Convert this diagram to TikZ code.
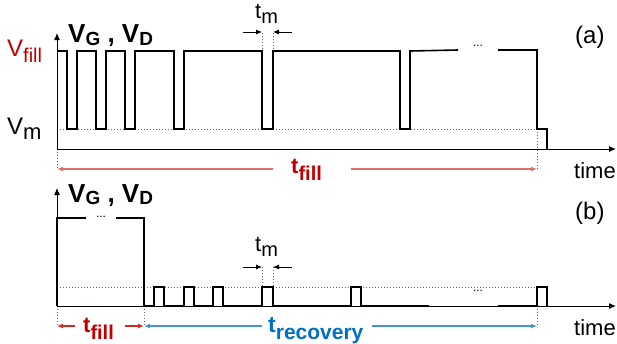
\documentclass[tikz,border=0pt]{standalone}
\usepackage{fontspec}
\setmainfont{Liberation Sans}
\usetikzlibrary{arrows.meta}
\definecolor{lblred}{RGB}{192,0,0}
\definecolor{arrred}{RGB}{222,110,110}
\definecolor{arrredb}{RGB}{215,40,40}
\definecolor{lblblue}{RGB}{0,112,192}
\definecolor{arrblue}{RGB}{70,145,220}
\newcommand{\fs}[1]{\fontsize{#1}{#1}\selectfont}
\newcommand{\subx}[3]{\raisebox{-#2pt}{\fs{#1}#3}}
\tikzset{
  sig/.style={line width=1.6pt, line join=miter, black},
  axis/.style={line width=1pt, black, -{Latex[length=7pt,width=6pt]}},
  guide/.style={line width=0.9pt, black!60, dash pattern=on 0.9pt off 2.1pt},
  txt/.style={inner sep=0pt, anchor=base west},
  dim/.style={line width=1.3pt, -{Latex[length=6pt,width=5pt]}},
  tmarr/.style={line width=0.8pt, black, -{Latex[length=6pt,width=5pt]}},
}
\begin{document}
\begin{tikzpicture}[x=1pt,y=-1pt]
\useasboundingbox (0,0) rectangle (617,343);
% ---------- panel (a) ----------
\coordinate (oa) at (57,149);
\coordinate (ya) at (57,33);
\coordinate (xa) at (616,149);
\draw[guide] (57,129) -- (537,129);
\draw[guide] (262,33) -- (262,51);
\draw[guide] (273,33) -- (273,51);
\draw[guide] (57,149) -- (57,169);
\draw[guide] (537,129) -- (537,169);
\draw[axis] (oa) -- (ya);
\draw[axis] (oa) -- (xa);
\draw[sig] (57,51) -- (67,51) -- (67,129) -- (77,129) -- (77,51) -- (96,51) -- (96,129) -- (106,129) -- (106,51)
  -- (125,51) -- (125,129) -- (135,129) -- (135,51) -- (174,51) -- (174,129) -- (184,129) -- (184,51)
  -- (262,51) -- (262,129) -- (273,129) -- (273,51) -- (400,51) -- (400,129) -- (410,129) -- (410,51) -- (458,50);
\draw[sig] (498,50) -- (537,50) -- (537,129) -- (547,129) -- (547,149);
\node[inner sep=0pt] (dotsa) at (478,46) {\fs{12}...};
% labels
\node[txt, text=lblred] (vfill) at (7,56) {\fs{24}V\subx{20}{6}{fill}};
\node[txt] (vm) at (7,134) {\fs{24}V\subx{22}{5}{m}};
\node[txt, font=\bfseries] (vgd) at (68,42) {\fs{26}V\subx{19}{3}{G}\fs{26} , V\subx{19}{3}{D}};
\node[txt] (tma) at (255,18) {\fs{22}t\subx{20}{5}{m}};
\coordinate (tmal) at (243,32);
\coordinate (tmar) at (292,32);
\coordinate (tmalt) at (262,32);
\coordinate (tmart) at (273,32);
\draw[tmarr] (tmal) -- (tmalt);
\draw[tmarr] (tmar) -- (tmart);
\node[txt] (lbla) at (575,43) {\fs{24}(a)};
\node[txt] (timea) at (574,178) {\fs{22}time};
\node[txt, text=lblred, font=\bfseries] (tfa) at (291,173) {\fs{22}t\subx{20}{7}{fill}};
\coordinate (tfa1) at (57,169);
\coordinate (tfa2) at (273,169);
\coordinate (tfa3) at (351,169);
\coordinate (tfa4) at (537,169);
\draw[dim, arrred] (tfa2) -- (tfa1);
\draw[dim, arrred] (tfa3) -- (tfa4);
% ---------- panel (b) ----------
\coordinate (ob) at (57,306);
\coordinate (yb) at (57,188);
\coordinate (xb) at (616,306);
\draw[guide] (57,287) -- (537,287);
\draw[guide] (262,267) -- (262,287);
\draw[guide] (273,267) -- (273,287);
\draw[guide] (57,306) -- (57,326);
\draw[guide] (144,306) -- (144,326);
\draw[guide] (537,306) -- (537,326);
\draw[axis] (ob) -- (yb);
\draw[axis] (ob) -- (xb);
\draw[sig] (57,306) -- (57,218) -- (86,218);
\draw[sig] (116,218) -- (144,218) -- (144,306) -- (154,306) -- (154,287) -- (164,287) -- (164,306)
  -- (184,306) -- (184,287) -- (194,287) -- (194,306) -- (213,306) -- (213,287) -- (223,287) -- (223,306)
  -- (262,306) -- (262,287) -- (273,287) -- (273,306) -- (351,306) -- (351,287) -- (361,287) -- (361,306) -- (429,306);
\draw[sig] (498,306) -- (537,306) -- (537,287) -- (547,287) -- (547,306);
\node[inner sep=0pt] (dotsb1) at (101,217) {\fs{12}...};
\node[inner sep=0pt] (dotsb2) at (478,291) {\fs{12}...};
\node[txt, font=\bfseries] (vgdb) at (68,202) {\fs{26}V\subx{19}{2}{G}\fs{26} , V\subx{19}{2}{D}};
\node[txt] (tmb) at (255,251) {\fs{22}t\subx{20}{5}{m}};
\coordinate (tmbl) at (243,267);
\coordinate (tmbr) at (292,267);
\coordinate (tmblt) at (262,267);
\coordinate (tmbrt) at (273,267);
\draw[tmarr] (tmbl) -- (tmblt);
\draw[tmarr] (tmbr) -- (tmbrt);
\node[txt] (lblb) at (575,219) {\fs{24}(b)};
\node[txt] (timeb) at (574,335) {\fs{22}time};
\node[txt, text=lblred, font=\bfseries] (tfb) at (83,332) {\fs{22}t\subx{20}{7}{fill}};
\node[txt, text=lblblue, font=\bfseries] (trb) at (268,332) {\fs{23}t\subx{21}{7}{recovery}};
\coordinate (tfb1) at (57,326);
\coordinate (tfb2) at (75,326);
\coordinate (tfb3) at (125,326);
\coordinate (tfb4) at (144,326);
\draw[dim, arrredb] (tfb2) -- (tfb1);
\draw[dim, arrredb] (tfb3) -- (tfb4);
\coordinate (trb1) at (144,326);
\coordinate (trb2) at (262,326);
\coordinate (trb3) at (372,326);
\coordinate (trb4) at (537,326);
\draw[dim, arrblue] (trb2) -- (trb1);
\draw[dim, arrblue] (trb3) -- (trb4);
\end{tikzpicture}
\end{document}
